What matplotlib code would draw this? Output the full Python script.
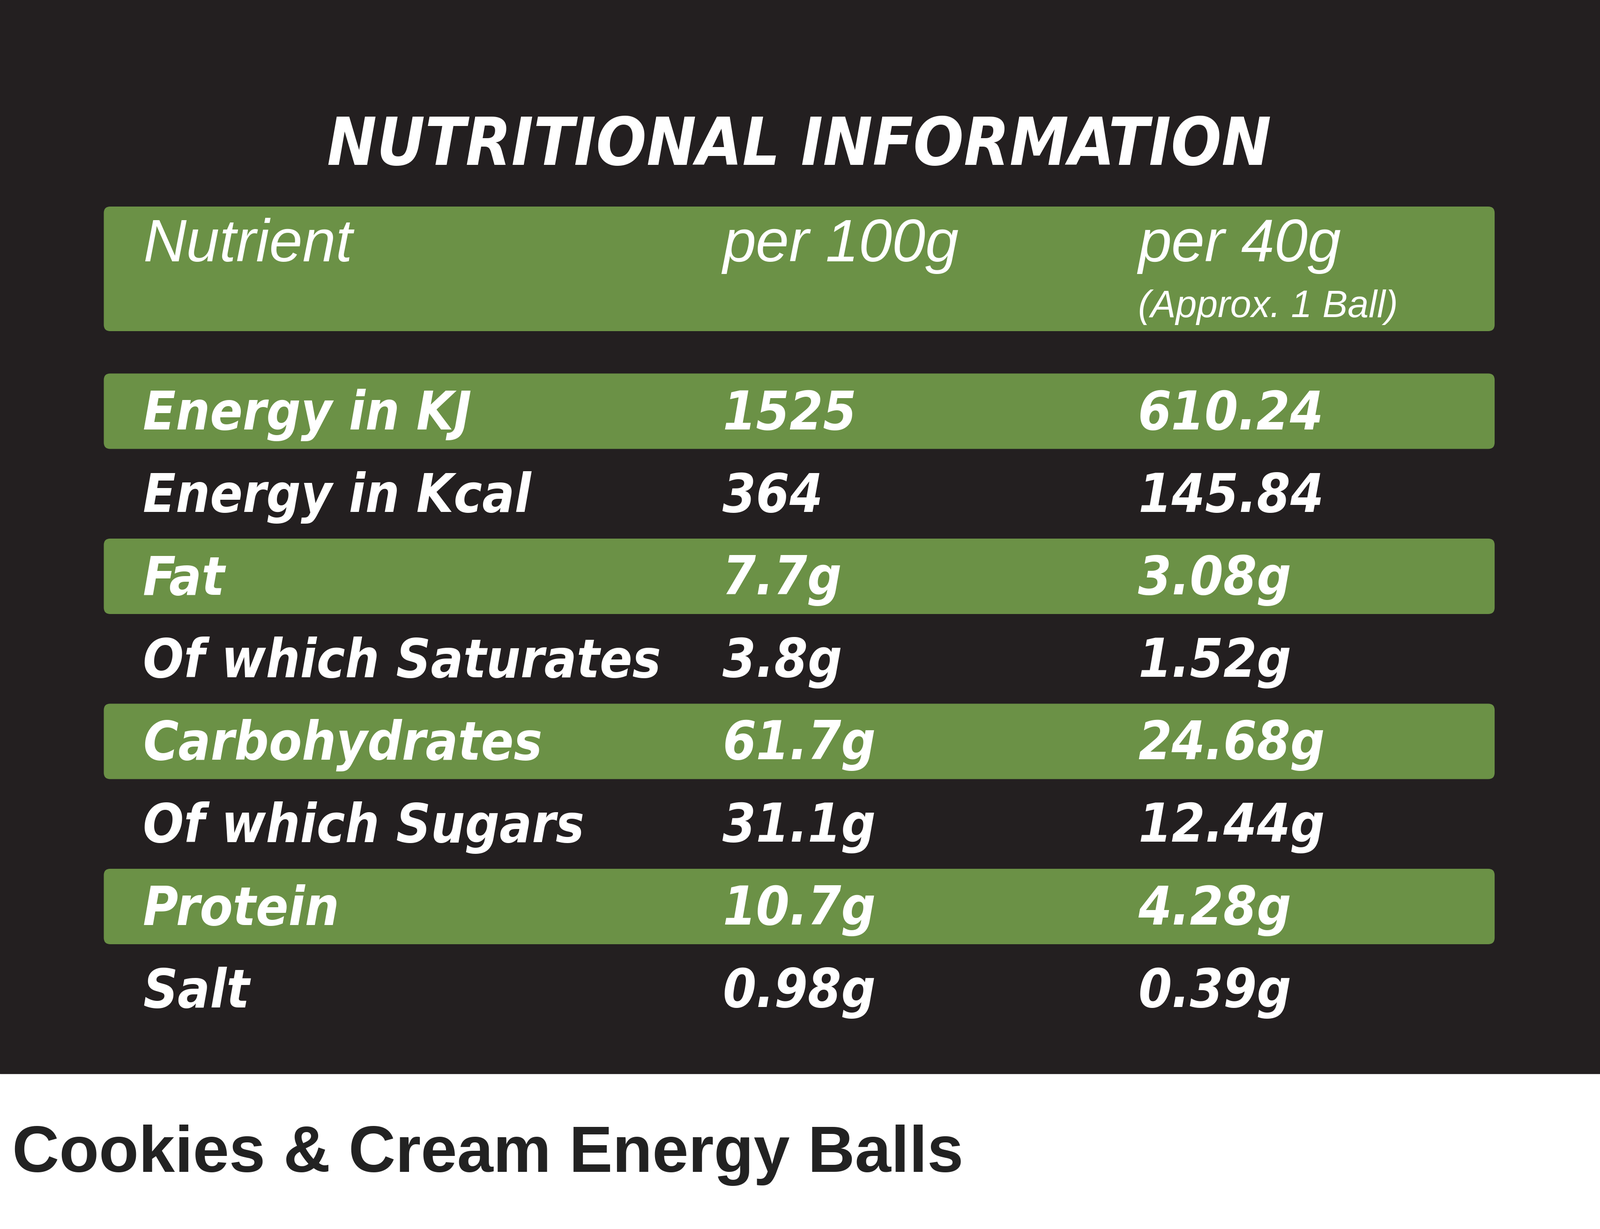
import matplotlib
matplotlib.use("Agg")
import matplotlib.pyplot as plt
from matplotlib.patches import FancyBboxPatch, Rectangle
from matplotlib import font_manager as fm

title = "NUTRITIONAL INFORMATION"
subtitle = "Cookies & Cream Energy Balls"
headers = ["Nutrient", "per 100g", "per 40g"]
header_note = "(Approx. 1 Ball)"
nutrients = ["Energy in KJ", "Energy in Kcal", "Fat", "Of which Saturates",
             "Carbohydrates", "Of which Sugars", "Protein", "Salt"]
per_100g = ["1525", "364", "7.7g", "3.8g", "61.7g", "31.1g", "10.7g", "0.98g"]
per_40g = ["610.24", "145.84", "3.08g", "1.52g", "24.68g", "12.44g", "4.28g", "0.39g"]

BG = "#231f20"
GREEN = "#6b9146"
W, H = 1568, 1200
fig = plt.figure(figsize=(34.16, 26.24), dpi=100)
ax = fig.add_axes([0, 0, 1, 1])
ax.set_xlim(0, W); ax.set_ylim(H, 0); ax.axis("off")
fig.patch.set_facecolor("white")
renderer = fig.canvas.get_renderer()
PX = 3416 / W

names = {f.name for f in fm.fontManager.ttflist}
cond = [f for f in fm.fontManager.ttflist if f.name == "DejaVu Sans" and "ondensed" in f.fname and "Bold" in f.fname]
if "Liberation Sans Narrow" in names:
    props = dict(fontfamily="Liberation Sans Narrow")
elif cond:
    props = dict(fontproperties=fm.FontProperties(fname=cond[0].fname))
else:
    props = dict(fontfamily="Liberation Sans", fontweight="bold")

def fit(t, width):
    w = t.get_window_extent(renderer).width
    t.set_fontsize(t.get_fontsize() * width * PX / w)

ax.add_patch(Rectangle((0, 0), W, 1048, color=BG, zorder=0))
tt = ax.text(783, 143, title, color="white", fontsize=118, ha="center", va="center", **props)
fit(tt, 925)

def band(y0, y1):
    ax.add_patch(FancyBboxPatch((102, y0), 1362, y1 - y0,
                                boxstyle="round,pad=0,rounding_size=6",
                                color=GREEN, zorder=1))

band(202, 323)
cols = [140, 708, 1115]
for x, h in zip(cols, headers):
    ax.text(x, 240, h, color="white", fontsize=92, fontstyle="italic",
            fontfamily="Liberation Sans", ha="left", va="center", zorder=2)
ax.text(1115, 300, header_note, color="white", fontsize=58, fontstyle="italic",
        fontfamily="Liberation Sans", ha="left", va="center", zorder=2)

y_start, step = 403, 80.6
texts = []
for i, (n, a, b) in enumerate(zip(nutrients, per_100g, per_40g)):
    y = y_start + i * step
    if i % 2 == 0:
        band(y - 38, y + 35)
    for x, t in zip(cols, (n, a, b)):
        texts.append(ax.text(x, y + 2, t, color="white", fontsize=96,
                             ha="left", va="center", zorder=2, **props))
ref = texts[3 * 3]
w = ref.get_window_extent(renderer).width
scale = 508 * PX / w
for t in texts:
    t.set_fontsize(96 * scale)

ax.text(12, 1128, subtitle, color="#222222", fontsize=100, fontweight="bold",
        fontfamily="Liberation Sans", ha="left", va="center")
fig.savefig("out.png", dpi=100, facecolor="white")
